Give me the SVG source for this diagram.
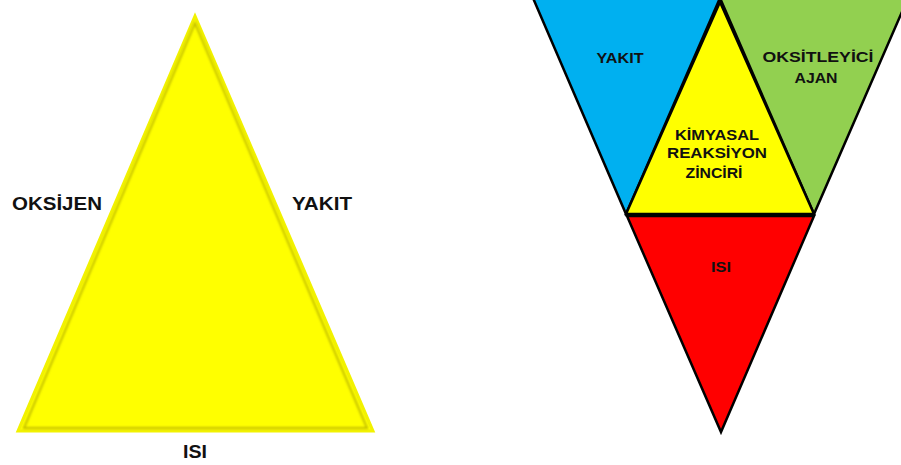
<svg xmlns="http://www.w3.org/2000/svg" width="901" height="465" viewBox="0 0 901 465">
<defs>
<style>
.lbl{font-family:"Liberation Sans",Arial,sans-serif;font-weight:bold;fill:#111;}
.big{font-size:19px;}
.sm{font-size:15px;text-anchor:middle;}
.tri{stroke:#000;stroke-width:2.5;stroke-linejoin:miter;}
</style>
<filter id="blur" x="-10%" y="-10%" width="120%" height="120%"><feGaussianBlur stdDeviation="1.2"/></filter>
</defs>
<rect width="901" height="465" fill="#fff"/>
<g id="fire-triangle">
<polygon points="195,16 18,431 373,431" fill="#FFFF00" stroke="#F2F200" stroke-width="3" stroke-linejoin="miter"/>
<polygon points="195,23 24,428 367,428" fill="none" stroke="#8a8200" stroke-opacity="0.5" stroke-width="2" filter="url(#blur)"/>
</g>
<g id="label-oksijen"><text class="lbl big" x="12" y="210" textLength="90" lengthAdjust="spacingAndGlyphs">OKSİJEN</text></g>
<g id="label-yakit"><text class="lbl big" x="292" y="210" textLength="60" lengthAdjust="spacingAndGlyphs">YAKIT</text></g>
<g id="label-isi"><text class="lbl big" x="183" y="458" textLength="24" lengthAdjust="spacingAndGlyphs">ISI</text></g>
<g id="yakit-node">
<polygon class="tri" points="533,-2 720,-2 626,214" fill="#00B0F0"/>
<text class="lbl sm" x="620" y="63" textLength="47" lengthAdjust="spacingAndGlyphs">YAKIT</text>
</g>
<g id="oksitleyici-node">
<polygon class="tri" points="720,-2 908,-2 814,214" fill="#92D050"/>
<text class="lbl sm" x="818" y="62" textLength="111" lengthAdjust="spacingAndGlyphs">OKSİTLEYİCİ</text>
<text class="lbl sm" x="816" y="83" textLength="43" lengthAdjust="spacingAndGlyphs">AJAN</text>
</g>
<g id="zincir-node">
<polygon class="tri" points="720,2 626,214 814,214" fill="#FFFF00"/>
<text class="lbl sm" x="717" y="140" textLength="84" lengthAdjust="spacingAndGlyphs">KİMYASAL</text>
<text class="lbl sm" x="717" y="158" textLength="100" lengthAdjust="spacingAndGlyphs">REAKSİYON</text>
<text class="lbl sm" x="714" y="178" textLength="57" lengthAdjust="spacingAndGlyphs">ZİNCİRİ</text>
</g>
<g id="isi-node">
<polygon class="tri" points="627,216 814,216 721,432" fill="#FF0000"/>
<text class="lbl sm" x="721" y="272" textLength="20" lengthAdjust="spacingAndGlyphs">ISI</text>
</g>
<g id="connectors"></g>
</svg>
